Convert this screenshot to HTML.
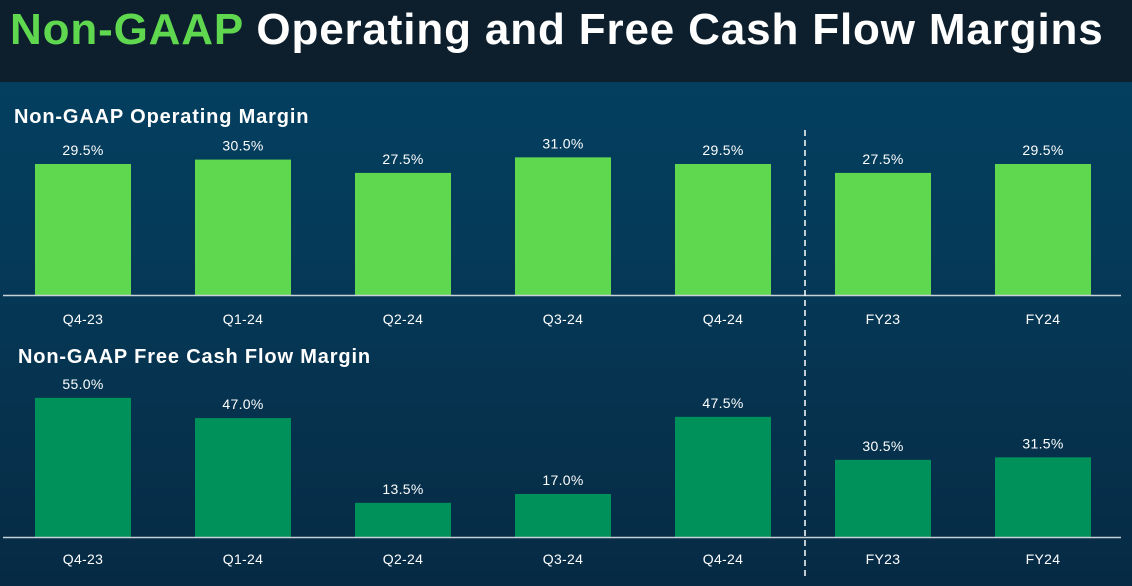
<!DOCTYPE html>
<html><head><meta charset="utf-8"><style>
html,body{margin:0;padding:0;}
body{width:1132px;height:586px;overflow:hidden;background:linear-gradient(#043f60 82px,#053a58 250px,#062a44 586px);font-family:"Liberation Sans",sans-serif;position:relative;}
#hdr{position:absolute;left:0;top:0;width:1132px;height:82px;background:#0d1f2d;}
#hdr h1{margin:0;position:absolute;left:10px;top:5px;font-size:44px;font-weight:bold;color:#fff;white-space:nowrap;letter-spacing:0.85px}
#hdr h1 span{color:#5fd84f}
</style></head><body>
<div id="hdr"><h1><span>Non-GAAP</span> Operating and Free Cash Flow Margins</h1></div>
<svg id="chart" width="1132" height="586" style="position:absolute;left:0;top:0"></svg>
<script>
const categories=["Q4-23","Q1-24","Q2-24","Q3-24","Q4-24","FY23","FY24"];
const opMargin=[29.5,30.5,27.5,31.0,29.5,27.5,29.5];
const fcfMargin=[55.0,47.0,13.5,17.0,47.5,30.5,31.5];
const svg=document.getElementById('chart');
const NS='http://www.w3.org/2000/svg';
function mk(tag,attrs,text){const e=document.createElementNS(NS,tag);for(const k in attrs)e.setAttribute(k,attrs[k]);if(text!=null)e.textContent=text;svg.appendChild(e);return e;}
function xc(i){return 83+160*i;}
const panels=[{title:"Non-GAAP Operating Margin",tx:14,ty:123,base:295,scale:4.44,vals:opMargin,color:"#5fd84f",ly:324,name:"operating"},
{title:"Non-GAAP Free Cash Flow Margin",tx:18,ty:363,base:537,scale:2.53,vals:fcfMargin,color:"#00915a",ly:564,name:"fcf"}];
panels.forEach(p=>{
 const t=mk('text',{x:p.tx,y:p.ty,fill:'#fff','font-size':'20','font-weight':'bold','letter-spacing':'0.85'},p.title);
 
 
 p.vals.forEach((v,i)=>{
  const h=v*p.scale;
  const r=mk('rect',{x:xc(i)-48,y:p.base-h,width:96,height:h,fill:p.color});
  
  
  const l=mk('text',{x:xc(i),y:p.base-h-9,fill:'#fff','font-size':'14','text-anchor':'middle','letter-spacing':'0.3'},v.toFixed(1)+'%');
  
  
  const c=mk('text',{x:xc(i),y:p.ly,fill:'#fff','font-size':'14','text-anchor':'middle','letter-spacing':'0.3'},categories[i]);
  
  
 });
 const ax=mk('line',{x1:3,x2:1121,y1:p.base+0.5,y2:p.base+0.5,stroke:'#c8d0d8','stroke-width':1.5});
 
 
});
const d=mk('line',{x1:805,x2:805,y1:130,y2:576,stroke:'#fff','stroke-width':1.5,'stroke-dasharray':'6,4'});


</script>
</body></html>
